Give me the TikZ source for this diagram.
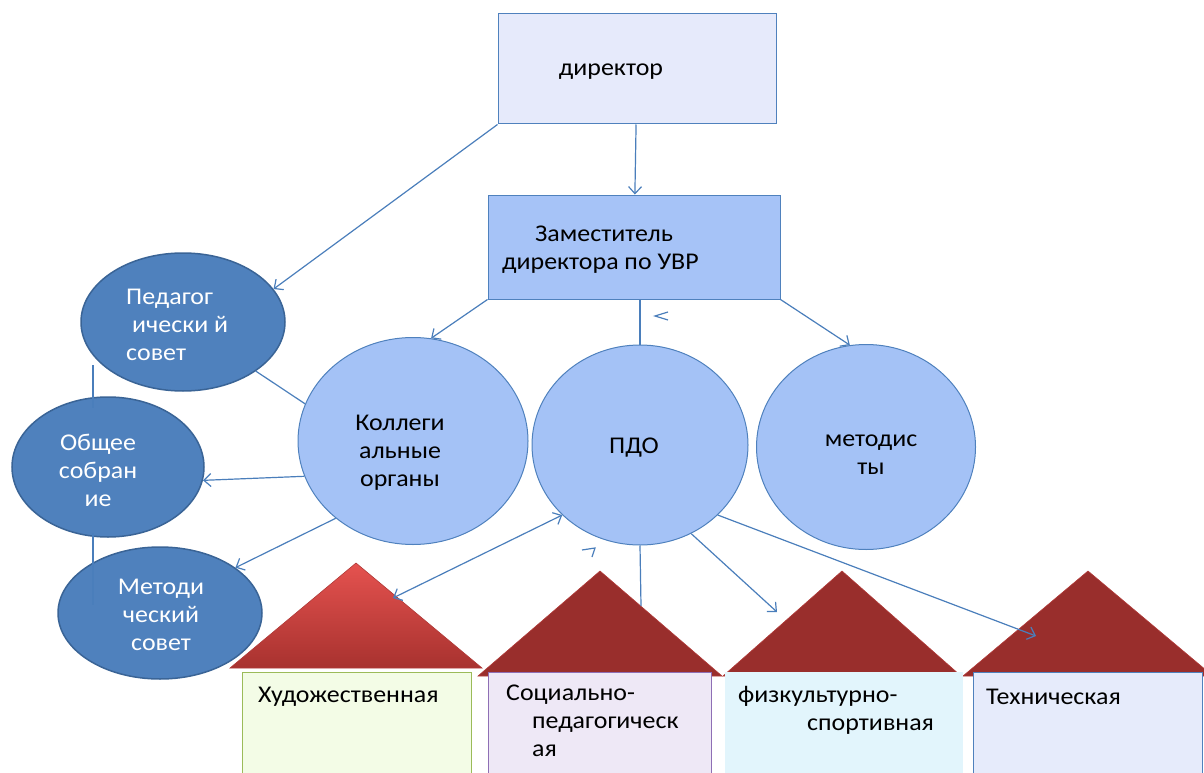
\documentclass[tikz,border=0pt]{standalone}
\usepackage{fontspec}
\setmainfont[FakeStretch=1.08]{Carlito}
\usetikzlibrary{shapes.geometric, arrows.meta}

\definecolor{boxblue}{HTML}{4F81BD}
\definecolor{dirfill}{HTML}{E6EAFB}
\definecolor{depfill}{HTML}{A6C3F7}
\definecolor{lightfill}{HTML}{A4C2F6}
\definecolor{darkblue}{HTML}{4F81BD}
\definecolor{darkedge}{HTML}{3A6496}
\definecolor{linecol}{HTML}{4A7EBB}
\definecolor{roofred}{HTML}{992E2C}
\definecolor{roofedge}{HTML}{B03A38}
\definecolor{rooftop}{HTML}{E5524F}
\definecolor{roofbot}{HTML}{A8322F}
\definecolor{artfill}{HTML}{F3FCE6}
\definecolor{artedge}{HTML}{9BBB59}
\definecolor{socfill}{HTML}{EEE8F6}
\definecolor{socedge}{HTML}{8E6FB5}
\definecolor{sportfill}{HTML}{E2F5FC}
\definecolor{techfill}{HTML}{E6EBFB}

\newcommand{\lblsize}{\fontsize{24}{28}\selectfont}

\tikzset{
	dirbox/.style={draw=boxblue, fill=dirfill, line width=1pt},
	depbox/.style={draw=boxblue, fill=depfill, line width=1pt},
	darkell/.style={ellipse, draw=darkedge, fill=darkblue, line width=1.5pt},
	lightell/.style={ellipse, draw=boxblue, fill=lightfill, line width=1pt},
	lbl/.style={font=\lblsize, inner sep=0pt},
	wlbl/.style={lbl, text=white},
	conn/.style={draw=linecol, line width=1.2pt},
	arr/.style={conn, -{Straight Barb[length=7pt, width=13pt]}},
	dblarr/.style={conn, {Straight Barb[length=7pt, width=13pt]}-{Straight Barb[length=7pt, width=13pt]}},
	roof/.style={fill=roofred, draw=roofedge, line width=0.6pt}
}

\begin{document}
\begin{tikzpicture}[x=1pt, y=-1pt]
	\useasboundingbox (0,0) rectangle (1204,773);

	%roofs:
	\shade [top color=rooftop, bottom color=roofbot, draw=roofedge, line width=0.6pt]
		(356,563) -- (230,668) -- (482,668) -- cycle;
	\foreach \ax/\bl/\br in {600/478/722, 842/723/961, 1088/963/1213}
		\fill [roof] (\ax,571) -- (\bl,676) -- (\br,676) -- cycle;

	%houses:
	\fill [artfill, draw=artedge, line width=1pt] (242,672) rectangle (471,775);
	\fill [socfill, draw=socedge, line width=1pt] (488,672) rectangle (711,775);
	\fill [sportfill] (725,672) rectangle (963,775);
	\fill [techfill, draw=boxblue, line width=1pt] (973,672) rectangle (1202,775);

	\node (art) at (258,697) [lbl, anchor=west] {Художественная};
	\node (soc) at (506,685) [lbl, anchor=north west, align=left]
		{Социально-\\\hspace*{26pt}педагогическ\\\hspace*{26pt}ая};
	\node (sport) at (738,686) [lbl, anchor=north west, align=left]
		{физкультурно-\\\hspace*{69pt}спортивная};
	\node (tech) at (986,697) [lbl, anchor=west] {Техническая};

	\coordinate (arttip) at (393,598);
	\coordinate (soctop) at (641,606);
	\coordinate (sporttip) at (777,612);
	\coordinate (techtip) at (1036,636);

	%top boxes:
	\node (dir) at (637,69) [dirbox, minimum width=278pt, minimum height=110pt] {};
	\node (dirtext) at (611,72) [lbl] {директор};
	\node (dep) at (634,247) [depbox, minimum width=292pt, minimum height=104pt] {};
	\node (deptext) at (502,250) [lbl, anchor=west, align=left]
		{\hspace*{33pt}Заместитель\\директора по УВР};

	%councils:
	\node (ped) at (183,322) [darkell, minimum width=204pt, minimum height=138pt] {};
	\node (pedtext) at (126,325) [wlbl, anchor=west, align=left]
		{Педагог\\\hspace*{6pt}ически й\\совет};
	\node (gen) at (108,467) [darkell, minimum width=192pt, minimum height=140pt] {};
	\node (gentext) at (98,470) [wlbl, align=center] {Общее\\собран\\ие};
	\node (meth) at (160,613) [darkell, minimum width=204pt, minimum height=132pt] {};
	\node (methtext) at (161,615) [wlbl, align=center] {Методи\\ческий\\совет};

	%circles:
	\node (coll) at (413,441) [lightell, minimum width=230pt, minimum height=207pt] {};
	\node (colltext) at (400,453) [lbl, align=center] {Коллеги\\альные\\органы};
	\node (pdo) at (640,445) [lightell, minimum width=216pt, minimum height=200pt] {};
	\node (pdotext) at (634,448) [lbl] {ПДО};
	\node (met) at (866,447) [lightell, minimum width=219pt, minimum height=205pt] {};
	\node (mettext) at (871,455) [lbl, align=center] {методис\\ты};

	\coordinate (pg1) at (93,365);
	\coordinate (pg2) at (93,408);
	\coordinate (gm1) at (93,533);
	\coordinate (gm2) at (93,605);

	%links:
	\draw [arr] (dir) -- (dep);
	\draw [arr] (dir.south west) -- (ped.20);
	\draw [arr] (dep.south west) -- (coll.80);
	\draw [conn] (pdo.north |- dep.south) -- (pdo.north);
	\draw [arr] (dep.south east) -- (met.99);
	\draw [conn] (ped.-34) -- (coll.161);
	\draw [arr] (coll.198) -- (gen.-8);
	\draw [arr] (coll.225) -- (meth.31);
	\draw [conn] (pg1) -- (pg2);
	\draw [conn] (gm1) -- (gm2);
	\draw [dblarr] (pdo.222) -- (arttip);
	\draw [conn] (pdo.south) -- (soctop);
	\draw [arr] (pdo.-60) -- (sporttip);
	\draw [arr] (pdo.-42) -- (techtip);

	%loose tips:
	\draw [conn] (668,312) -- (655,316) -- (668,320);
	\draw [conn] (582,550) -- (595,548) -- (592,557);
\end{tikzpicture}
\end{document}
